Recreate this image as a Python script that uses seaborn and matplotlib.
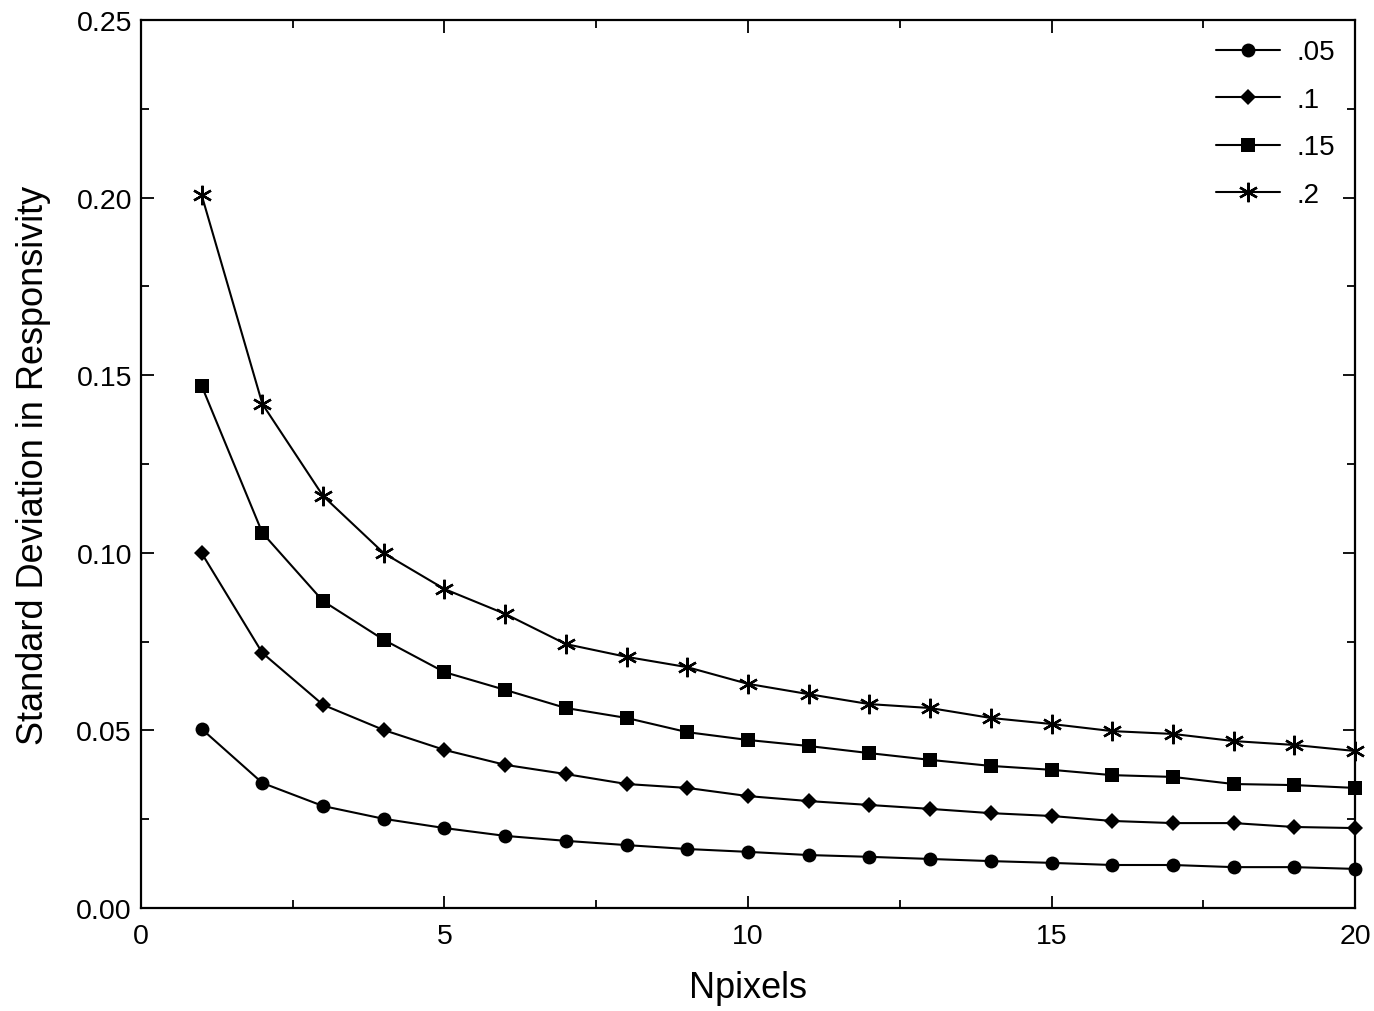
import numpy as np
import pandas as pd
import matplotlib
matplotlib.use("Agg")
import matplotlib.pyplot as plt
from matplotlib.ticker import MultipleLocator
import seaborn as sns

npixels = list(range(1, 21))

sd_05 = [0.0504, 0.0352, 0.0287, 0.0251, 0.0225, 0.0203, 0.0189, 0.0177, 0.0166, 0.0158,
         0.0149, 0.0144, 0.0138, 0.0132, 0.0127, 0.0121, 0.0121, 0.0115, 0.0115, 0.0110]
sd_10 = [0.0999, 0.0718, 0.0572, 0.0501, 0.0445, 0.0403, 0.0377, 0.0349, 0.0338, 0.0315,
         0.0301, 0.0290, 0.0279, 0.0267, 0.0259, 0.0245, 0.0239, 0.0239, 0.0228, 0.0225]
sd_15 = [0.1470, 0.1056, 0.0864, 0.0755, 0.0664, 0.0614, 0.0563, 0.0535, 0.0495, 0.0473,
         0.0456, 0.0436, 0.0417, 0.0400, 0.0389, 0.0374, 0.0369, 0.0349, 0.0346, 0.0338]
sd_20 = [0.2007, 0.1419, 0.1160, 0.0999, 0.0898, 0.0828, 0.0743, 0.0707, 0.0678, 0.0631,
         0.0602, 0.0574, 0.0563, 0.0535, 0.0518, 0.0498, 0.0490, 0.0470, 0.0459, 0.0442]

labels = [".05", ".1", ".15", ".2"]

frames = []
for lab, vals in zip(labels, [sd_05, sd_10, sd_15, sd_20]):
    frames.append(pd.DataFrame({"Npixels": npixels, "sd": vals, "series": lab}))
df = pd.concat(frames, ignore_index=True)

sns.set_style("ticks", {"text.color": "black", "axes.labelcolor": "black",
                        "xtick.color": "black", "ytick.color": "black",
                        "axes.edgecolor": "black"})
plt.rcParams['font.family'] = ['Liberation Sans', 'DejaVu Sans']

fig = plt.figure(figsize=(13.74, 10.12), dpi=100)
ax = fig.add_axes([0.1026, 0.1018, 0.8836, 0.8774])

# asterisk with a vertical spoke, like the original
styles = {".05": ("o", 10), ".1": ("D", 8), ".15": ("s", 10), ".2": ((6, 2, 0), 14)}

for lab in labels:
    sub = df[df["series"] == lab]
    mk, ms = styles[lab]
    sns.lineplot(data=sub, x="Npixels", y="sd", ax=ax, color="black", linewidth=1.5,
                 marker=mk, markersize=ms, markeredgewidth=1.7 if lab == ".2" else 0,
                 markeredgecolor="black", markerfacecolor="black", label=lab, clip_on=False)

ax.set_xlim(0, 20)
ax.set_ylim(0, 0.25)
ax.xaxis.set_major_locator(MultipleLocator(5))
ax.xaxis.set_minor_locator(MultipleLocator(2.5))
ax.yaxis.set_major_locator(MultipleLocator(0.05))
ax.yaxis.set_minor_locator(MultipleLocator(0.025))
ax.yaxis.set_major_formatter(plt.FuncFormatter(lambda v, p: f"{v:.2f}"))
ax.tick_params(which="both", direction="in", top=True, right=True, width=1.3, labelsize=20.5)
ax.tick_params(axis="x", pad=11)
ax.tick_params(axis="y", pad=6.5)
ax.tick_params(which="major", length=9)
ax.tick_params(which="minor", length=6)
for s in ax.spines.values():
    s.set_linewidth(1.6)

ax.set_xlabel("Npixels", fontsize=26, labelpad=15)
ax.set_ylabel("Standard Deviation in Responsivity", fontsize=26, labelpad=18)

leg = ax.legend(loc="upper right", frameon=False, fontsize=20, handlelength=2.3,
                labelspacing=0.77, borderaxespad=0.3, handletextpad=0.6)

fig.savefig("out.png", dpi=100)
